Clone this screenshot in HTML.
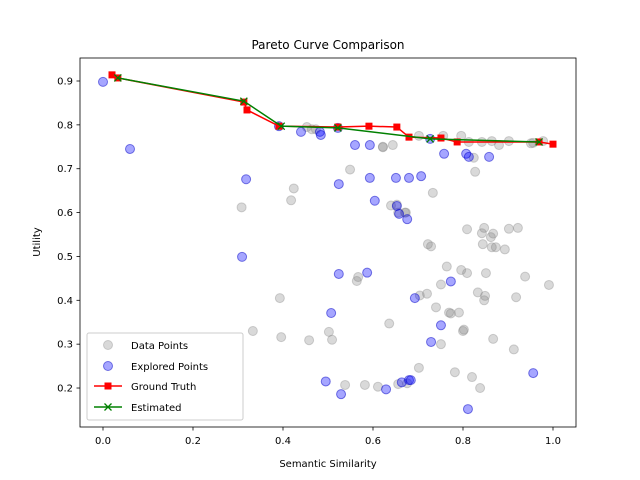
<!DOCTYPE html>
<html><head><meta charset="utf-8"><style>body{margin:0;background:#fff}svg{display:block}text{font-family:"DejaVu Sans","Liberation Sans",sans-serif;fill:#000}</style></head>
<body>
<svg id="chart" width="640" height="480" xmlns="http://www.w3.org/2000/svg">
<rect width="640" height="480" fill="#fff"/>
<g id="pts"></g>
<g id="axes"></g>
</svg>
<script>
const grayX=[0.308,0.424,0.418,0.393,0.396,0.333,0.458,0.502,0.509,0.549,0.564,0.567,0.538,0.582,0.611,0.636,0.64,0.644,0.622,0.622,0.656,0.656,0.673,0.676,0.671,0.702,0.704,0.72,0.722,0.729,0.733,0.74,0.751,0.751,0.764,0.769,0.773,0.782,0.791,0.796,0.8,0.802,0.809,0.809,0.813,0.82,0.824,0.827,0.833,0.838,0.842,0.844,0.847,0.851,0.847,0.849,0.862,0.864,0.867,0.867,0.873,0.893,0.902,0.913,0.918,0.922,0.938,0.951,0.956,0.978,0.991,0.842,0.864,0.88,0.902,0.756,0.702,0.796,0.453,0.464,0.473,0.653];
const grayY=[0.612,0.655,0.628,0.405,0.316,0.33,0.309,0.328,0.31,0.698,0.444,0.453,0.207,0.207,0.203,0.347,0.616,0.754,0.75,0.749,0.209,0.6,0.6,0.211,0.6,0.246,0.411,0.415,0.528,0.523,0.645,0.384,0.436,0.3,0.477,0.372,0.37,0.236,0.372,0.469,0.33,0.333,0.562,0.462,0.761,0.225,0.725,0.693,0.418,0.2,0.553,0.528,0.4,0.462,0.565,0.41,0.544,0.521,0.552,0.312,0.521,0.516,0.563,0.288,0.407,0.565,0.454,0.758,0.759,0.763,0.435,0.761,0.763,0.754,0.763,0.775,0.775,0.775,0.795,0.79,0.79,0.618];
const expX=[0.0,0.06,0.318,0.309,0.391,0.44,0.482,0.484,0.522,0.524,0.524,0.507,0.56,0.593,0.593,0.604,0.651,0.653,0.658,0.676,0.68,0.707,0.727,0.758,0.773,0.751,0.693,0.729,0.807,0.813,0.858,0.587,0.495,0.529,0.629,0.664,0.68,0.684,0.811,0.956];
const expY=[0.898,0.745,0.676,0.499,0.797,0.784,0.784,0.777,0.793,0.665,0.46,0.371,0.754,0.754,0.679,0.627,0.679,0.615,0.597,0.585,0.679,0.683,0.768,0.734,0.443,0.343,0.405,0.305,0.734,0.727,0.727,0.463,0.215,0.186,0.197,0.213,0.218,0.218,0.152,0.234];
const gtX=[0.02,0.033,0.313,0.32,0.391,0.522,0.591,0.653,0.68,0.751,0.787,0.969,1.0];
const gtY=[0.914,0.907,0.852,0.834,0.797,0.795,0.797,0.795,0.772,0.77,0.761,0.761,0.756];
const estX=[0.033,0.313,0.396,0.522,0.727,0.969];
const estY=[0.907,0.854,0.797,0.793,0.768,0.761];
const xTicks=[0.0,0.2,0.4,0.6,0.8,1.0];
const yTicks=[0.2,0.3,0.4,0.5,0.6,0.7,0.8,0.9];
const xTickLabels=["0.0","0.2","0.4","0.6","0.8","1.0"];
const yTickLabels=["0.2","0.3","0.4","0.5","0.6","0.7","0.8","0.9"];

const L=80,R=576,T=58,B=427;
const sx=v=>103+v*450;
const sy=v=>81+(0.9-v)*438.6;
const NS="http://www.w3.org/2000/svg";
const pts=document.getElementById('pts'),axes=document.getElementById('axes');
function mk(tag,at,par){const e=document.createElementNS(NS,tag);for(const k in at)e.setAttribute(k,at[k]);par.appendChild(e);return e;}
grayX.forEach((x,i)=>{const c=mk('circle',{cx:sx(x),cy:sy(grayY[i]),r:4.5,fill:'rgba(128,128,128,0.3)',stroke:'rgba(128,128,128,0.35)'},pts);

});
expX.forEach((x,i)=>{const c=mk('circle',{cx:sx(x),cy:sy(expY[i]),r:4.5,fill:'rgba(0,0,255,0.35)',stroke:'rgba(0,0,200,0.5)'},pts);

});
let p=mk('polyline',{points:gtX.map((x,i)=>sx(x)+','+sy(gtY[i])).join(' '),fill:'none',stroke:'#ff0000','stroke-width':1.5},pts);


gtX.forEach((x,i)=>{const r=mk('rect',{x:sx(x)-3.5,y:sy(gtY[i])-3.5,width:7,height:7,fill:'#ff0000'},pts);

});
p=mk('polyline',{points:estX.map((x,i)=>sx(x)+','+sy(estY[i])).join(' '),fill:'none',stroke:'#008000','stroke-width':1.5},pts);


estX.forEach((x,i)=>{const X=sx(x),Y=sy(estY[i]);const m=mk('path',{d:`M${X-3.5},${Y-3.5}L${X+3.5},${Y+3.5}M${X-3.5},${Y+3.5}L${X+3.5},${Y-3.5}`,stroke:'#008000','stroke-width':1.3},pts);

});
let f=mk('rect',{x:L,y:T,width:R-L,height:B-T,fill:'none',stroke:'#000','stroke-width':0.8},axes);


xTicks.forEach((v,i)=>{mk('line',{x1:sx(v),x2:sx(v),y1:B,y2:B+3.5,stroke:'#000','stroke-width':0.8},axes);
const t=mk('text',{x:sx(v),y:B+17,'font-size':10,'text-anchor':'middle'},axes);t.textContent=xTickLabels[i];

});
yTicks.forEach((v,i)=>{mk('line',{x1:L-3.5,x2:L,y1:sy(v),y2:sy(v),stroke:'#000','stroke-width':0.8},axes);
const t=mk('text',{x:L-7,y:sy(v)+3.5,'font-size':10,'text-anchor':'end'},axes);t.textContent=yTickLabels[i];

});
</script>
<svg style="position:absolute;left:0;top:0" width="640" height="480" xmlns="http://www.w3.org/2000/svg">
<text x="328" y="49" font-size="12" text-anchor="middle">Pareto Curve Comparison</text>
<text x="328" y="467" font-size="10" text-anchor="middle">Semantic Similarity</text>
<text x="40" y="242" font-size="10" text-anchor="middle" transform="rotate(-90 40 242)">Utility</text>
<g>
<rect x="87" y="333" width="156" height="87" rx="2" fill="rgba(255,255,255,0.8)" stroke="#ccc"/>
<g><circle cx="108" cy="345" r="4.5" fill="rgba(128,128,128,0.3)" stroke="rgba(128,128,128,0.35)"/><text x="131" y="349" font-size="10">Data Points</text></g>
<g><circle cx="108" cy="366" r="4.5" fill="rgba(0,0,255,0.35)" stroke="rgba(0,0,200,0.5)"/><text x="131" y="370" font-size="10">Explored Points</text></g>
<g><line x1="94" x2="122" y1="386" y2="386" stroke="#f00" stroke-width="1.5"/><rect x="104.5" y="382.5" width="7" height="7" fill="#f00"/><text x="131" y="390" font-size="10">Ground Truth</text></g>
<g><line x1="94" x2="122" y1="407" y2="407" stroke="#008000" stroke-width="1.5"/><path d="M104.5,403.5L111.5,410.5M104.5,410.5L111.5,403.5" stroke="#008000" stroke-width="1.3"/><text x="131" y="411" font-size="10">Estimated</text></g>
</g>
</svg>
</body></html>
